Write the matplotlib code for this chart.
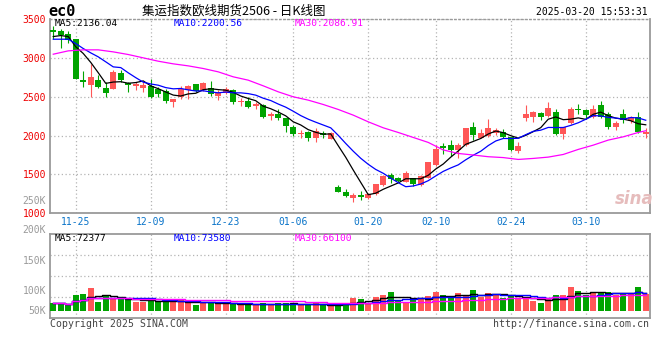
import matplotlib
matplotlib.use("Agg")
import matplotlib.pyplot as plt
import numpy as np
import pandas as pd

# ---- data (candles 11-20 .. 03-20) ----
opens = [3364, 3343, 3313, 3240, 2713, 2649, 2713, 2614, 2597, 2811,
         2679, 2640, 2614, 2640, 2597, 2571, 2434, 2499, 2584, 2661,
         2584, 2614, 2507, 2554, 2584, 2426, 2443, 2379, 2392, 2254,
         2280, 2220, 2113, 2014, 2049, 1972, 2027, 1954, 1342, 1277,
         1200, 1235, 1200, 1243, 1363, 1492, 1457, 1400, 1449, 1363,
         1449, 1620, 1865, 1877, 1813, 1877, 2104, 1972, 1997, 2036,
         2049, 1980, 1800, 2229, 2242, 2293, 2254, 2297, 2014, 2156,
         2340, 2327, 2242, 2392, 2276, 2113, 2284, 2190, 2237, 2016]
highs = [3411, 3377, 3343, 3249, 2833, 2920, 2777, 2691, 2841, 2850,
         2691, 2691, 2691, 2734, 2627, 2597, 2477, 2640, 2649, 2670,
         2691, 2700, 2584, 2627, 2597, 2486, 2499, 2434, 2400, 2297,
         2336, 2229, 2134, 2070, 2057, 2100, 2057, 2049, 1363, 1312,
         1256, 1286, 1265, 1376, 1492, 1513, 1470, 1543, 1457, 1492,
         1663, 1877, 1899, 1942, 1899, 2092, 2177, 2083, 2212, 2092,
         2083, 1984, 1920, 2392, 2314, 2306, 2426, 2340, 2113, 2370,
         2400, 2336, 2392, 2443, 2297, 2186, 2340, 2250, 2297, 2092]
lows = [3249, 3133, 3197, 2726, 2627, 2499, 2606, 2499, 2597, 2691,
        2563, 2584, 2563, 2486, 2499, 2413, 2370, 2477, 2477, 2563,
        2572, 2511, 2456, 2529, 2400, 2383, 2357, 2340, 2229, 2199,
        2199, 2049, 1997, 1972, 1929, 1912, 1972, 1950, 1269, 1213,
        1149, 1170, 1183, 1234, 1355, 1393, 1406, 1400, 1355, 1355,
        1449, 1612, 1757, 1740, 1706, 1869, 1942, 1963, 1984, 2006,
        1963, 1800, 1779, 2186, 2177, 2199, 2242, 2006, 1954, 2143,
        2272, 2220, 2229, 2220, 2083, 2070, 2156, 2164, 2027, 1972]
closes = [3330, 3291, 3236, 2734, 2691, 2756, 2627, 2550, 2820, 2713,
          2657, 2670, 2657, 2499, 2533, 2447, 2469, 2597, 2636, 2572,
          2679, 2529, 2542, 2597, 2434, 2443, 2370, 2400, 2242, 2272,
          2229, 2126, 2019, 2036, 1972, 2057, 2006, 2036, 1277, 1226,
          1235, 1213, 1247, 1372, 1479, 1440, 1419, 1513, 1372, 1479,
          1663, 1822, 1835, 1813, 1877, 2092, 2006, 2027, 2100, 2070,
          1984, 1813, 1869, 2280, 2306, 2242, 2357, 2014, 2104, 2340,
          2323, 2263, 2340, 2242, 2113, 2164, 2199, 2237, 2049, 2045]
# volume in thousand lots
volumes = [53.5, 53.5, 52.3, 69.0, 70.8, 82.6, 56.7, 67.1, 61.0, 61.0,
           61.0, 56.7, 56.7, 61.0, 56.7, 56.7, 56.7, 59.7, 54.8, 50.5,
           56.7, 54.8, 53.5, 52.3, 53.5, 51.7, 53.5, 50.5, 54.8, 50.5,
           54.8, 54.8, 51.7, 51.7, 50.5, 53.5, 50.5, 48.6, 53.5, 53.5,
           64.1, 61.6, 54.8, 65.3, 69.0, 75.2, 58.5, 56.0, 61.6, 61.6,
           67.8, 75.2, 69.0, 62.8, 72.7, 69.0, 78.2, 64.7, 72.7, 70.8,
           64.1, 69.0, 62.8, 62.8, 58.5, 54.2, 61.6, 69.0, 69.0, 84.4,
           76.4, 69.0, 72.0, 74.6, 74.6, 69.0, 72.7, 70.2, 83.8, 70.8]

# moving averages at the left edge (window starts before the chart)
ma5_head = [3274, 3287, 3274, 3143]
ma10_head = [3240, 3240, 3240, 3184, 3120, 3064, 3013, 2949, 2884]
# MA30 read at these candles
ma30_idx = [1, 3, 5, 7, 9, 11, 13, 15, 17, 19, 21, 23, 25, 27, 29, 31, 33, 35, 37, 39,
            41, 43, 45, 47, 49, 51, 53, 55, 57, 59, 61, 63, 65, 67, 69, 71, 73, 75, 77, 79, 80]
ma30_val = [3047, 3090, 3103, 3103, 3077, 3043, 3000, 2957, 2923, 2897, 2863, 2820, 2756,
            2713, 2640, 2563, 2499, 2456, 2400, 2336, 2263, 2177, 2100, 2040, 1976, 1912,
            1815, 1770, 1750, 1728, 1717, 1693, 1706, 1723, 1757, 1822, 1877, 1942, 1984,
            2040, 2062]

date_idx = [4, 14, 24, 33, 43, 52, 62, 72]
date_lbl = ["11-25", "12-09", "12-23", "01-06", "01-20", "02-10", "02-24", "03-10"]
price_ticks = [1000, 1500, 2000, 2500, 3000, 3500]
vol_lbl = ["250K", "200K", "150K", "100K", "50K"]
vol_lbl_py = [200.7, 230, 261, 290.7, 310.7]

price_legend = ["MA5:2136.04", "MA10:2200.56", "MA30:2086.91"]
vol_legend = ["MA5:72377", "MA10:73580", "MA30:66100"]

RED = "#ff5757"
GREEN = "#00a400"
MA_COLORS = ["#000000", "#0000ff", "#ff00ff"]
GRID = "#b4b4b4"
FRAME = "#9a9a9a"
MONO = "DejaVu Sans Mono"

W, H = 660, 360
def fx(px):
    return px / W
def fy(py):
    return 1 - py / H

idx = np.arange(1, len(closes) + 1)
o = np.array(opens, float)
c = np.array(closes, float)
hi = np.array(highs, float)
lo = np.array(lows, float)
up = c >= o
colors = np.where(up, RED, GREEN)

ma5 = pd.Series(c).rolling(5).mean().to_numpy()
ma5[:len(ma5_head)] = ma5_head
ma10 = pd.Series(c).rolling(10).mean().to_numpy()
ma10[:len(ma10_head)] = ma10_head

vol = np.array(volumes) * 1000
vs = pd.Series(vol)
vma = [vs.rolling(n, min_periods=1).mean() for n in (5, 10, 30)]

fig = plt.figure(figsize=(6.6, 3.6), dpi=100)
fig.patch.set_facecolor("white")

# ---------- price panel ----------
ax = fig.add_axes([fx(49.5), fy(213.3), 600 / W, (213.3 - 19) / H])
ax.set_xlim(0.5, len(idx) + 0.5)
ax.set_ylim(1000, 3500)

body_lo = np.minimum(o, c)
body_h = np.maximum(np.abs(c - o), 12)
ax.vlines(idx, lo, hi, colors=colors, linewidth=0.8, zorder=3)
ax.bar(idx, body_h, bottom=body_lo, width=0.8, color=colors, linewidth=0, zorder=4)

ax.plot(idx, ma5, color=MA_COLORS[0], lw=0.9, zorder=5)
ax.plot(idx, ma10, color=MA_COLORS[1], lw=0.9, zorder=5)
ax.plot(ma30_idx, ma30_val, color=MA_COLORS[2], lw=0.9, zorder=5)

ax.set_yticks(price_ticks)
ax.set_yticklabels([str(t) for t in price_ticks], color="#ee0000",
                   fontfamily=MONO, fontsize=7)
ax.set_xticks(date_idx)
ax.set_xticklabels(date_lbl, color="#0a74c9", fontfamily=MONO, fontsize=7)
ax.tick_params(length=0, pad=2.5)
ax.grid(True, color=GRID, linestyle=(0, (1, 2)), linewidth=0.9)
for s in ("left", "right", "bottom"):
    ax.spines[s].set_color(FRAME)
    ax.spines[s].set_linewidth(1.3)
ax.spines["top"].set_color(FRAME)
ax.spines["top"].set_linestyle((0, (1, 2)))
ax.spines["top"].set_linewidth(1.0)

# ---------- volume panel ----------
VOL_BASE = 40000
axv = fig.add_axes([fx(49.5), fy(317.7), 600 / W, (317.7 - 234.3) / H])
axv.set_xlim(0.5, len(idx) + 0.5)
v0, v1 = 27000, 181300
axv.set_ylim(v0, v1)
axv.bar(idx, vol - VOL_BASE, bottom=VOL_BASE, width=0.8, color=colors,
        linewidth=0, zorder=3)
for m, col in zip(vma, MA_COLORS):
    axv.plot(idx, m, color=col, lw=1.0, drawstyle="steps-mid", zorder=4)
axv.set_yticks([v0 + (v1 - v0) * f for f in (0.25, 0.5, 0.75)])
axv.set_yticklabels([])
axv.set_xticks(date_idx)
axv.set_xticklabels([])
axv.tick_params(length=0)
axv.grid(True, color=GRID, linestyle=(0, (1, 2)), linewidth=0.9)
for s in axv.spines.values():
    s.set_color(FRAME)
    s.set_linewidth(1.3)

for lbl, py in zip(vol_lbl, vol_lbl_py):
    fig.text(fx(46), fy(py), lbl, ha="right", va="center", color="#9a9a9a",
             fontfamily=MONO, fontsize=7)

# ---------- legends / header / footer ----------
for txt, px, col in zip(price_legend, (55, 174, 295), MA_COLORS):
    fig.text(fx(px), fy(24), txt, ha="left", va="center", color=col,
             fontfamily=MONO, fontsize=6.8)
for txt, px, col in zip(vol_legend, (55, 174, 295), MA_COLORS):
    fig.text(fx(px), fy(238.7), txt, ha="left", va="center", color=col,
             fontfamily=MONO, fontsize=6.8)

fig.text(fx(48), fy(11.5), "ec0", ha="left", va="center", fontfamily=MONO,
         fontweight="bold", fontsize=11)
fig.text(fx(142), fy(11.5), "集运指数欧线期货2506 - 日K线图", ha="left", va="center",
         family=["Noto Sans CJK SC", "DejaVu Sans"], fontsize=9)
fig.text(fx(648), fy(12), "2025-03-20 15:53:31", ha="right", va="center",
         fontfamily=MONO, fontsize=7)
fig.text(fx(50), fy(324), "Copyright 2025 SINA.COM", ha="left", va="center",
         color="#444444", fontfamily=MONO, fontsize=7.1)
fig.text(fx(649), fy(324), "http://finance.sina.com.cn", ha="right", va="center",
         color="#444444", fontfamily=MONO, fontsize=7.1)
fig.text(fx(634), fy(199), "sina", ha="center", va="center", color="#e6bcbc",
         fontsize=12, fontweight="bold", fontstyle="italic", zorder=1)

fig.savefig("out.png", dpi=100)
